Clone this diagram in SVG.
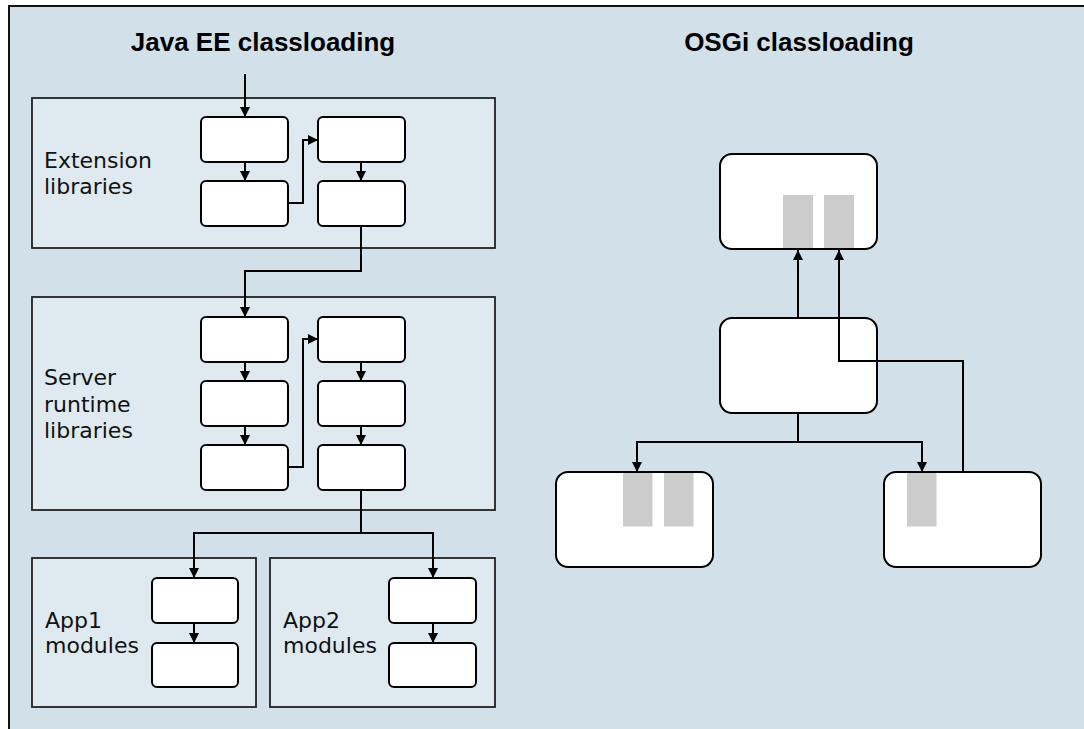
<svg xmlns="http://www.w3.org/2000/svg" width="1084" height="729" viewBox="0 0 1084 729">
  <defs>
    <style>
      .bg { fill: #d2e0ea; stroke: #111; stroke-width: 2; }
      .panel { fill: #dfe9f0; stroke: #222; stroke-width: 1.8; }
      .box { fill: #ffffff; stroke: #000; stroke-width: 2; }
      .gray { fill: #cccccc; }
      .title { font-family: "Liberation Sans", Arial, sans-serif; font-weight: bold; font-size: 26px; fill: #000; text-anchor: middle; }
      .label { font-family: "DejaVu Sans", Verdana, sans-serif; font-size: 22px; fill: #111; }
      .conn { fill: none; stroke: #000; stroke-width: 2; }
    </style>
    <marker id="arrow" markerUnits="userSpaceOnUse" markerWidth="10" markerHeight="10" refX="10" refY="5" orient="auto">
      <path d="M0,0 L10,5 L0,10 z" fill="#000"/>
    </marker>
  </defs>

  <rect x="0" y="0" width="1084" height="729" fill="#ffffff"/>
  <rect class="bg" x="9" y="6" width="1090" height="740"/>

  <text class="title" x="263" y="51">Java EE classloading</text>
  <text class="title" x="799" y="51">OSGi classloading</text>

  <g id="extension-libraries">
    <rect class="panel" x="32" y="98" width="463" height="150"/>
    <text class="label" x="44" y="167.5">Extension</text>
    <text class="label" x="44" y="194">libraries</text>
    <rect class="box" x="201" y="117" width="87" height="45" rx="5"/>
    <rect class="box" x="201" y="181" width="87" height="45" rx="5"/>
    <rect class="box" x="318" y="117" width="87" height="45" rx="5"/>
    <rect class="box" x="318" y="181" width="87" height="45" rx="5"/>
  </g>

  <g id="server-runtime-libraries">
    <rect class="panel" x="32" y="297" width="463" height="213"/>
    <text class="label" x="44" y="385">Server</text>
    <text class="label" x="44" y="411.5">runtime</text>
    <text class="label" x="44" y="438">libraries</text>
    <rect class="box" x="201" y="317" width="87" height="45" rx="5"/>
    <rect class="box" x="201" y="381" width="87" height="45" rx="5"/>
    <rect class="box" x="201" y="445" width="87" height="45" rx="5"/>
    <rect class="box" x="318" y="317" width="87" height="45" rx="5"/>
    <rect class="box" x="318" y="381" width="87" height="45" rx="5"/>
    <rect class="box" x="318" y="445" width="87" height="45" rx="5"/>
  </g>

  <g id="app1-modules">
    <rect class="panel" x="32" y="558" width="224" height="149"/>
    <text class="label" x="45" y="628">App1</text>
    <text class="label" x="45" y="653">modules</text>
    <rect class="box" x="152" y="578" width="86" height="45" rx="5"/>
    <rect class="box" x="152" y="643" width="86" height="44" rx="5"/>
  </g>

  <g id="app2-modules">
    <rect class="panel" x="270" y="558" width="225" height="149"/>
    <text class="label" x="283" y="628">App2</text>
    <text class="label" x="283" y="653">modules</text>
    <rect class="box" x="389" y="578" width="87" height="45" rx="5"/>
    <rect class="box" x="389" y="643" width="87" height="44" rx="5"/>
  </g>

  <g id="osgi-top">
    <rect class="box" x="720" y="154" width="157" height="95" rx="12"/>
    <rect class="gray" x="783" y="195" width="30" height="53"/>
    <rect class="gray" x="824" y="195" width="30" height="53"/>
  </g>

  <g id="osgi-middle">
    <rect class="box" x="720" y="318" width="157" height="95" rx="12"/>
  </g>

  <g id="osgi-bottom-left">
    <rect class="box" x="556" y="472" width="157" height="95" rx="12"/>
    <rect class="gray" x="623" y="473" width="29.5" height="53.5"/>
    <rect class="gray" x="664" y="473" width="29.5" height="53.5"/>
  </g>

  <g id="osgi-bottom-right">
    <rect class="box" x="884" y="472" width="157" height="95" rx="12"/>
    <rect class="gray" x="907" y="473" width="29.5" height="53.5"/>
  </g>

  <g id="connectors">
    <path class="conn" d="M245,74 V117" marker-end="url(#arrow)"/>
    <path class="conn" d="M245,162 V181" marker-end="url(#arrow)"/>
    <path class="conn" d="M288,203 H303 V140 H318" marker-end="url(#arrow)"/>
    <path class="conn" d="M361,162 V181" marker-end="url(#arrow)"/>
    <path class="conn" d="M361,226 V271 H245 V317" marker-end="url(#arrow)"/>
    <path class="conn" d="M245,362 V381" marker-end="url(#arrow)"/>
    <path class="conn" d="M245,426 V445" marker-end="url(#arrow)"/>
    <path class="conn" d="M288,467 H303 V339 H318" marker-end="url(#arrow)"/>
    <path class="conn" d="M361,362 V381" marker-end="url(#arrow)"/>
    <path class="conn" d="M361,426 V445" marker-end="url(#arrow)"/>
    <path class="conn" d="M361,490 V533 H194 V578" marker-end="url(#arrow)"/>
    <path class="conn" d="M361,533 H433 V578" marker-end="url(#arrow)"/>
    <path class="conn" d="M194,623 V643" marker-end="url(#arrow)"/>
    <path class="conn" d="M433,623 V643" marker-end="url(#arrow)"/>
    <path class="conn" d="M798,318 V250" marker-end="url(#arrow)"/>
    <path class="conn" d="M963,472 V361 H839 V250" marker-end="url(#arrow)"/>
    <path class="conn" d="M798,413 V442 H637 V472" marker-end="url(#arrow)"/>
    <path class="conn" d="M798,442 H922 V472" marker-end="url(#arrow)"/>
  </g>
</svg>
